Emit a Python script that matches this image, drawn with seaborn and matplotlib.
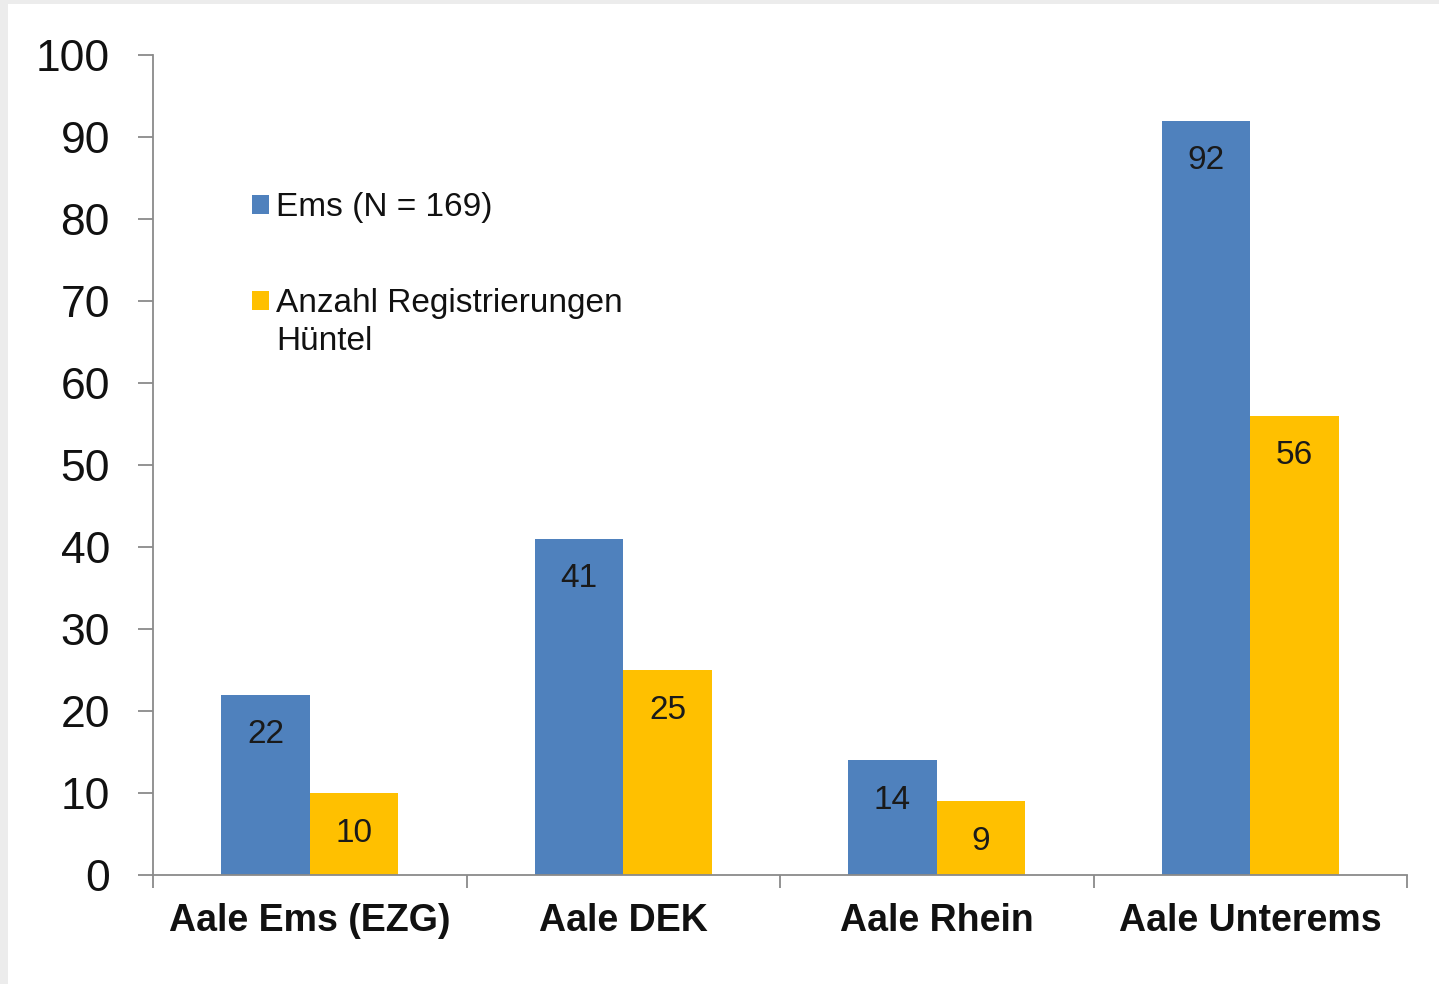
import matplotlib
matplotlib.use("Agg")
import matplotlib.pyplot as plt
import seaborn as sns
import pandas as pd
from matplotlib.patches import Rectangle

categories = ["Aale Ems (EZG)", "Aale DEK", "Aale Rhein", "Aale Unterems"]
series_names = ["Ems (N = 169)", "Anzahl Registrierungen"]
ems_values = [22, 41, 14, 92]
huentel_values = [10, 25, 9, 56]
colors = ["#4F81BD", "#FFC000"]
yticks = list(range(0, 101, 10))

df = pd.DataFrame({
    "Kategorie": categories * 2,
    "Serie": [series_names[0]] * 4 + [series_names[1]] * 4,
    "Wert": ems_values + huentel_values,
})

sns.set_theme(style="white")
plt.rcParams["font.family"] = ["Liberation Sans", "DejaVu Sans"]

W, H = 1439, 984
fig = plt.figure(figsize=(W / 100, H / 100), dpi=100)
fig.patch.set_facecolor("#ececec")
fig.patches.append(Rectangle((8 / W, 0), 1, 1 - 4 / H, transform=fig.transFigure,
                             facecolor="white", edgecolor="none", zorder=-10))

ax = fig.add_axes([153 / W, 109 / H, 1254 / W, 820 / H])
ax.set_facecolor("none")

sns.barplot(data=df, x="Kategorie", y="Wert", hue="Serie", palette=colors,
            width=0.565, gap=0, saturation=1, ax=ax, legend=True, errorbar=None,
            linewidth=0, edgecolor="none")

for cont in ax.containers:
    ax.bar_label(cont, labels=[str(int(v)) for v in cont.datavalues],
                 padding=-40, fontsize=24, color="#1a1a1a", label_type="edge")

ax.set_ylim(0, 100)
ax.set_xlim(-0.5, len(categories) - 0.5)
ax.set_yticks(yticks)
ax.set_yticklabels([str(t) for t in yticks], fontsize=32, color="#111111")
ax.tick_params(axis="y", which="major", direction="out", length=11, width=1.3,
               color="#8a8a8a", pad=20, left=True)
ax.set_xticks(range(len(categories)))
ax.set_xticklabels(categories, fontsize=27, fontweight="bold", color="#111111")
ax.tick_params(axis="x", which="major", length=0, pad=20)
ax.set_xticks([i - 0.5 for i in range(len(categories) + 1)], minor=True)
ax.tick_params(axis="x", which="minor", direction="out", length=9, width=1.3,
               color="#8a8a8a", bottom=True)
ax.set_xlabel("")
ax.set_ylabel("")

for s in ["top", "right"]:
    ax.spines[s].set_visible(False)
for s in ["left", "bottom"]:
    ax.spines[s].set_color("#8a8a8a")
    ax.spines[s].set_linewidth(1.3)

handles, labels = ax.get_legend_handles_labels()
leg = ax.legend(handles, labels, loc="upper left",
                bbox_to_anchor=((252 - 153) / 1254, (875 - 192) / 820),
                frameon=False, fontsize=24, handlelength=0.5, handleheight=0.5,
                handletextpad=0.22, labelspacing=1.95, borderaxespad=0,
                borderpad=0)
for t in leg.get_texts():
    t.set_color("#111111")
ax.text((276 - 153) / 1254, (875 - 341) / 820, "Hüntel", transform=ax.transAxes,
        fontsize=24, color="#111111", va="center", ha="left")

fig.savefig("out.png", dpi=100, facecolor=fig.get_facecolor())
